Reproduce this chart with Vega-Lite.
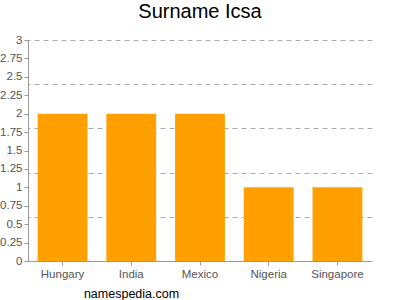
{
  "$schema": "https://vega.github.io/schema/vega-lite/v6.json",
  "autosize": "none",
  "width": 344,
  "height": 221,
  "padding": {"left": 28, "top": 40, "right": 28, "bottom": 39},
  "title": {"text": "Surname Icsa", "fontSize": 20, "fontWeight": "normal", "font": "Liberation Sans", "color": "#000", "offset": 12},
  "data": {"values": [
    {"country": "Hungary", "count": 2},
    {"country": "India", "count": 2},
    {"country": "Mexico", "count": 2},
    {"country": "Nigeria", "count": 1},
    {"country": "Singapore", "count": 1}
  ]},
  "config": {"view": {"stroke": null}, "font": "Liberation Sans"},
  "resolve": {"axis": {"y": "independent"}},
  "layer": [
    {
      "mark": {"type": "bar", "color": "#FFA000"},
      "encoding": {
        "x": {"field": "country", "type": "nominal", "sort": null,
              "scale": {"paddingInner": 0.275, "paddingOuter": 0.14},
              "axis": {"title": "namespedia.com", "titleFontWeight": "normal", "titleFontSize": 12.5, "titleColor": "#000", "titleX": 103, "titleAlign": "center", "titlePadding": 8,
                       "labelAngle": 0, "labelFontSize": 11.5, "labelColor": "#555", "domainColor": "#999", "tickColor": "#999", "tickSize": 4, "labelPadding": 3}},
        "y": {"field": "count", "type": "quantitative",
              "scale": {"domain": [0, 3], "nice": false},
              "axis": {"title": null, "values": [0,0.25,0.5,0.75,1,1.25,1.5,1.75,2,2.25,2.5,2.75,3], "format": ".3~g", "grid": false,
                       "labelFontSize": 11.5, "labelColor": "#555", "domainColor": "#999", "tickColor": "#999", "tickSize": 4, "labelPadding": 2}}
      }
    },
    {
      "mark": {"type": "bar", "opacity": 0},
      "encoding": {
        "x": {"field": "country", "type": "nominal", "sort": null},
        "y": {"field": "count", "type": "quantitative",
              "axis": {"orient": "right", "title": null, "values": [0.6, 1.2, 1.8, 2.4, 3], "grid": true, "gridDash": [5, 4], "gridColor": "#aaa", "gridWidth": 1,
                       "labels": false, "ticks": false, "domain": false}}
      }
    }
  ]
}
